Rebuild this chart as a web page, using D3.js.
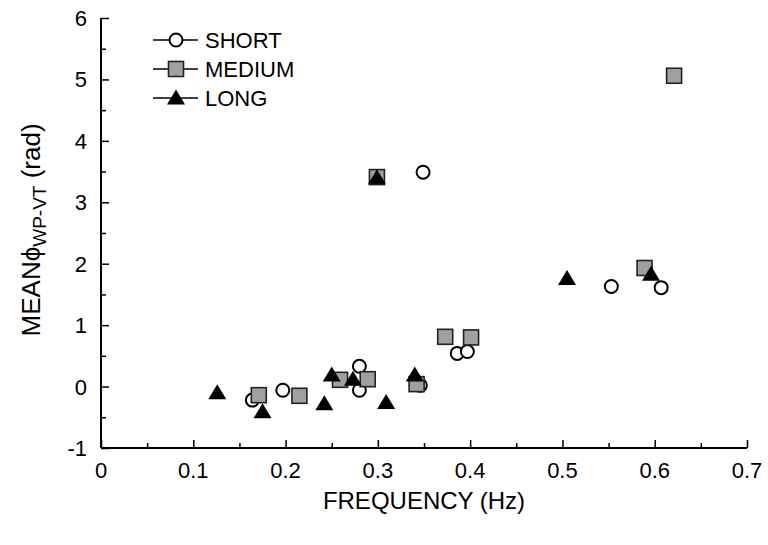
<!DOCTYPE html>
<html>
<head>
<meta charset="utf-8">
<script src="https://cdn.jsdelivr.net/npm/d3@7"></script>
<style>
  body { margin: 0; background: #fff; }
  svg text { font-family: "Liberation Sans", Arial, sans-serif; fill: #000; }
</style>
</head>
<body>
<div id="chart"></div>
<script>
// frequency (Hz) / mean phase (rad)
const shortData = [
      [0.164, -0.22], [0.197, -0.06], [0.280, 0.33], [0.280, -0.06],
      [0.346, 0.02], [0.349, 3.49], [0.386, 0.54], [0.397, 0.57],
      [0.553, 1.63], [0.607, 1.61]
];
const mediumData = [
      [0.171, -0.14], [0.215, -0.15], [0.259, 0.11], [0.289, 0.12],
      [0.342, 0.04], [0.299, 3.41], [0.373, 0.81], [0.401, 0.80],
      [0.589, 1.93], [0.621, 5.06]
];
const longData = [
      [0.126, -0.10], [0.175, -0.41], [0.242, -0.28], [0.250, 0.19],
      [0.273, 0.12], [0.309, -0.26], [0.340, 0.19], [0.299, 3.40],
      [0.505, 1.76], [0.596, 1.83]
];
const seriesNames = ["SHORT", "MEDIUM", "LONG"];
const xTicks = [0, 0.1, 0.2, 0.3, 0.4, 0.5, 0.6, 0.7];
const yTicks = [-1, 0, 1, 2, 3, 4, 5, 6];

const width = 768, height = 545;
const margin = {left: 101, right: 21, top: 18, bottom: 97};

const svg = d3.select("#chart").append("svg")
      .attr("width", width)
      .attr("height", height);

const x = d3.scaleLinear().domain([0, 0.7]).range([margin.left, width - margin.right]);
const y = d3.scaleLinear().domain([-1, 6]).range([height - margin.bottom, margin.top]);

// axes, ticks pointing inward
const xAxis = d3.axisBottom(x).tickValues(d3.range(0, 0.701, 0.05)).tickSize(-8).tickFormat("");
const gx = svg.append("g").attr("transform", "translate(0," + y(-1) + ")").call(xAxis);
gx.selectAll(".tick line").attr("y2", (d, i) => i % 2 ? -5 : -8);
gx.select(".domain").attr("d", "M" + x(0) + ",0H" + x(0.7));

const yAxis = d3.axisLeft(y).tickValues(d3.range(-1, 6.01, 0.5)).tickSize(-8).tickFormat("");
const gy = svg.append("g").attr("transform", "translate(" + x(0) + ",0)").call(yAxis);
gy.selectAll(".tick line").attr("x2", (d, i) => i % 2 ? 5 : 8);
gy.select(".domain").attr("d", "M0," + y(-1) + "V" + y(6));

svg.selectAll(".domain").attr("stroke", "#000").attr("stroke-width", 2);
svg.selectAll(".tick line").attr("stroke", "#000").attr("stroke-width", 1.5);

svg.append("g").selectAll("text").data(xTicks).join("text")
      .attr("x", d => x(d))
      .attr("y", y(-1) + 30)
      .attr("text-anchor", "middle")
      .attr("font-size", 22)
      .text(d => d === 0 ? "0" : d3.format(".1f")(d));

svg.append("g").selectAll("text").data(yTicks).join("text")
      .attr("x", x(0) - 14)
      .attr("y", d => y(d) + 8)
      .attr("text-anchor", "end")
      .attr("font-size", 22)
      .text(d => d);

svg.append("text")
      .attr("x", (x(0) + x(0.7)) / 2)
      .attr("y", 509)
      .attr("text-anchor", "middle")
      .attr("font-size", 24)
      .text("FREQUENCY (Hz)");

const yt = svg.append("text")
      .attr("transform", "translate(40," + y(2.55) + ") rotate(-90)")
      .attr("text-anchor", "middle")
      .attr("font-size", 26);
yt.append("tspan").text("MEAN\u03D5");
yt.append("tspan").attr("font-size", 19).attr("dy", 6).text("WP-VT");
yt.append("tspan").attr("dy", -6).text(" (rad)");

// markers
function drawMarker(g, type, cx, cy) {
      if (type === 0) {
            g.append("circle").attr("cx", cx).attr("cy", cy).attr("r", 6.5)
                  .attr("fill", "#fff").attr("stroke", "#000").attr("stroke-width", 2);
      } else if (type === 1) {
            g.append("rect").attr("x", cx - 7.5).attr("y", cy - 7.5).attr("width", 15).attr("height", 15)
                  .attr("fill", "#a0a0a0").attr("stroke", "#222").attr("stroke-width", 1.6);
      } else {
            g.append("path").attr("d", "M" + cx + "," + (cy - 8.5) + "L" + (cx + 9) + "," + (cy + 6.5) + "L" + (cx - 9) + "," + (cy + 6.5) + "Z")
                  .attr("fill", "#000");
      }
}

const marks = svg.append("g");
[shortData, mediumData, longData].forEach((data, t) => {
      data.forEach(d => drawMarker(marks, t, x(d[0]), y(d[1])));
});

// legend
const legend = svg.append("g");
seriesNames.forEach((name, i) => {
      const ly = 40 + i * 29;
      legend.append("line").attr("x1", 153).attr("x2", 198).attr("y1", ly).attr("y2", ly)
            .attr("stroke", "#000").attr("stroke-width", 1.5);
      drawMarker(legend, i, 176, ly);
      legend.append("text").attr("x", 205).attr("y", ly + 8).attr("font-size", 22).text(name);
});
</script>
</body>
</html>
